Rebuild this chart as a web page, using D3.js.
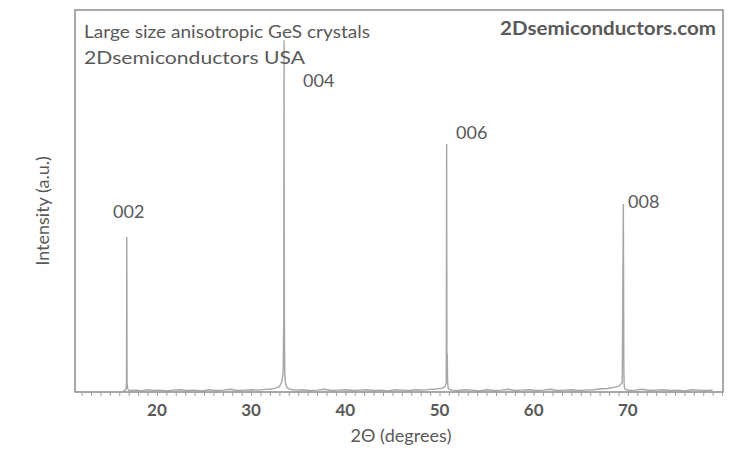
<!DOCTYPE html>
<html><head><meta charset="utf-8">
<script src="https://cdn.jsdelivr.net/npm/d3@7"></script>
<style>body{margin:0;background:#fff}svg{display:block}text{font-family:Lato,"Open Sans",sans-serif}</style>
</head><body>
<script>
// 2Θ (degrees) and intensity (a.u.)
const twoTheta = [16.4,16.6,16.72,16.77,16.8,16.83,16.88,17.0,17.3,17.8,18.4,19.0,19.6,20.3,21.0,21.7,22.5,23.2,24.0,24.8,25.5,26.3,27.0,27.8,28.5,29.3,30.0,30.8,31.5,32.1,32.6,33.0,33.25,33.4,33.47,33.5,33.53,33.57,33.65,33.8,34.0,34.4,34.9,35.5,36.2,37.0,37.8,38.5,39.3,40.0,40.8,41.5,42.3,43.0,43.8,44.5,45.3,46.0,46.8,47.5,48.3,49.0,49.7,50.3,50.6,50.72,50.76,50.79,50.82,50.86,50.9,50.95,51.1,51.4,52.0,52.7,53.5,54.2,55.0,55.8,56.5,57.3,58.0,58.8,59.5,60.3,61.0,61.8,62.5,63.3,64.0,64.8,65.5,66.3,67.0,67.8,68.5,69.1,69.4,69.52,69.57,69.6,69.63,69.68,69.8,70.2,70.8,71.5,72.3,73.0,73.8,74.5,75.3,76.0,76.8,77.5,78.3,79.0,79.8];
const intensity = [0.3,0.4,0.8,2.5,40.6,2.5,0.9,0.5,0.4,0.5,0.3,0.6,0.4,0.5,0.3,0.5,0.6,0.4,0.5,0.3,0.6,0.4,0.5,0.7,0.4,0.5,0.6,0.5,0.7,0.8,1.0,1.4,2.6,5,20,92.1,20,5,2.2,1.2,0.8,0.6,0.5,0.6,0.4,0.5,0.7,0.4,0.5,0.6,0.4,0.5,0.6,0.4,0.5,0.3,0.6,0.5,0.4,0.6,0.5,0.7,0.8,1.0,1.4,2.5,64.9,3,10,3,1.5,0.9,0.6,0.5,0.4,0.6,0.5,0.3,0.6,0.4,0.5,0.7,0.4,0.5,0.6,0.4,0.5,0.7,0.4,0.5,0.6,0.4,0.5,0.6,0.8,0.9,1.2,1.6,2.5,49.2,6,2.2,1.3,0.8,0.6,0.4,0.5,0.7,0.4,0.5,0.6,0.4,0.5,0.3,0.6,0.5,0.4,0.5];
const xTicks = [20,30,40,50,60,70];
const peakLabels = ["002","004","006","008"];

const W=751,H=459;
const L=75,R=723,T=10,B=392;
const svg=d3.select("body").append("svg").attr("width",W).attr("height",H);
const x=d3.scaleLinear().domain([11.3,80.1]).range([L,R]);
const y=d3.scaleLinear().domain([0,100]).range([B,T]);
const grey="#595959";

// spectrum
const data=twoTheta.map((t,i)=>[t,intensity[i]]);
svg.append("path").datum(data)
  .attr("d",d3.line().x(d=>x(d[0])).y(d=>y(d[1])))
  .attr("fill","none").attr("stroke","#a6a6a6").attr("stroke-width",1.4);

// frame
svg.append("rect").attr("x",L).attr("y",T).attr("width",R-L).attr("height",B-T)
  .attr("fill","none").attr("stroke","#8c8c8c").attr("stroke-width",1.5);

// minor ticks every degree
const minor=d3.range(12,81,1);
const ax=d3.axisBottom(x).tickValues(minor).tickSize(4).tickFormat("");
const g=svg.append("g").attr("transform",`translate(0,${B})`).call(ax);
g.select(".domain").remove();
g.selectAll("line").attr("stroke","#a0a0a0").attr("stroke-width",1);

// tick labels
svg.append("g").selectAll("text").data(xTicks).join("text")
  .attr("x",d=>x(d)).attr("y",416).attr("text-anchor","middle")
  .attr("font-size",17).attr("font-weight","bold").attr("fill",grey).text(d=>d);

// axis titles
svg.append("text").attr("x",401).attr("y",442).attr("text-anchor","middle")
  .attr("font-size",18).attr("fill",grey).text("2Θ (degrees)");
svg.append("text").attr("transform","translate(49,211) rotate(-90)").attr("text-anchor","middle")
  .attr("font-size",18).attr("fill",grey).text("Intensity (a.u.)");

// annotations
svg.append("text").attr("x",84).attr("y",38).attr("font-size",18).attr("fill",grey)
  .attr("textLength",286).attr("lengthAdjust","spacingAndGlyphs").text("Large size anisotropic GeS crystals");
svg.append("text").attr("x",84).attr("y",64).attr("font-size",18).attr("fill",grey)
  .attr("textLength",221).attr("lengthAdjust","spacingAndGlyphs").text("2Dsemiconductors USA");
svg.append("text").attr("x",500).attr("y",35).attr("font-size",18).attr("font-weight","bold").attr("fill",grey)
  .attr("textLength",216).attr("lengthAdjust","spacingAndGlyphs").text("2Dsemiconductors.com");

// peak labels
const lblX=[113,303,456,628], lblY=[218,87,139,208];
svg.append("g").selectAll("text").data(peakLabels).join("text")
  .attr("x",(d,i)=>lblX[i]).attr("y",(d,i)=>lblY[i])
  .attr("font-size",18).attr("fill",grey).text(d=>d);
</script>
</body></html>
